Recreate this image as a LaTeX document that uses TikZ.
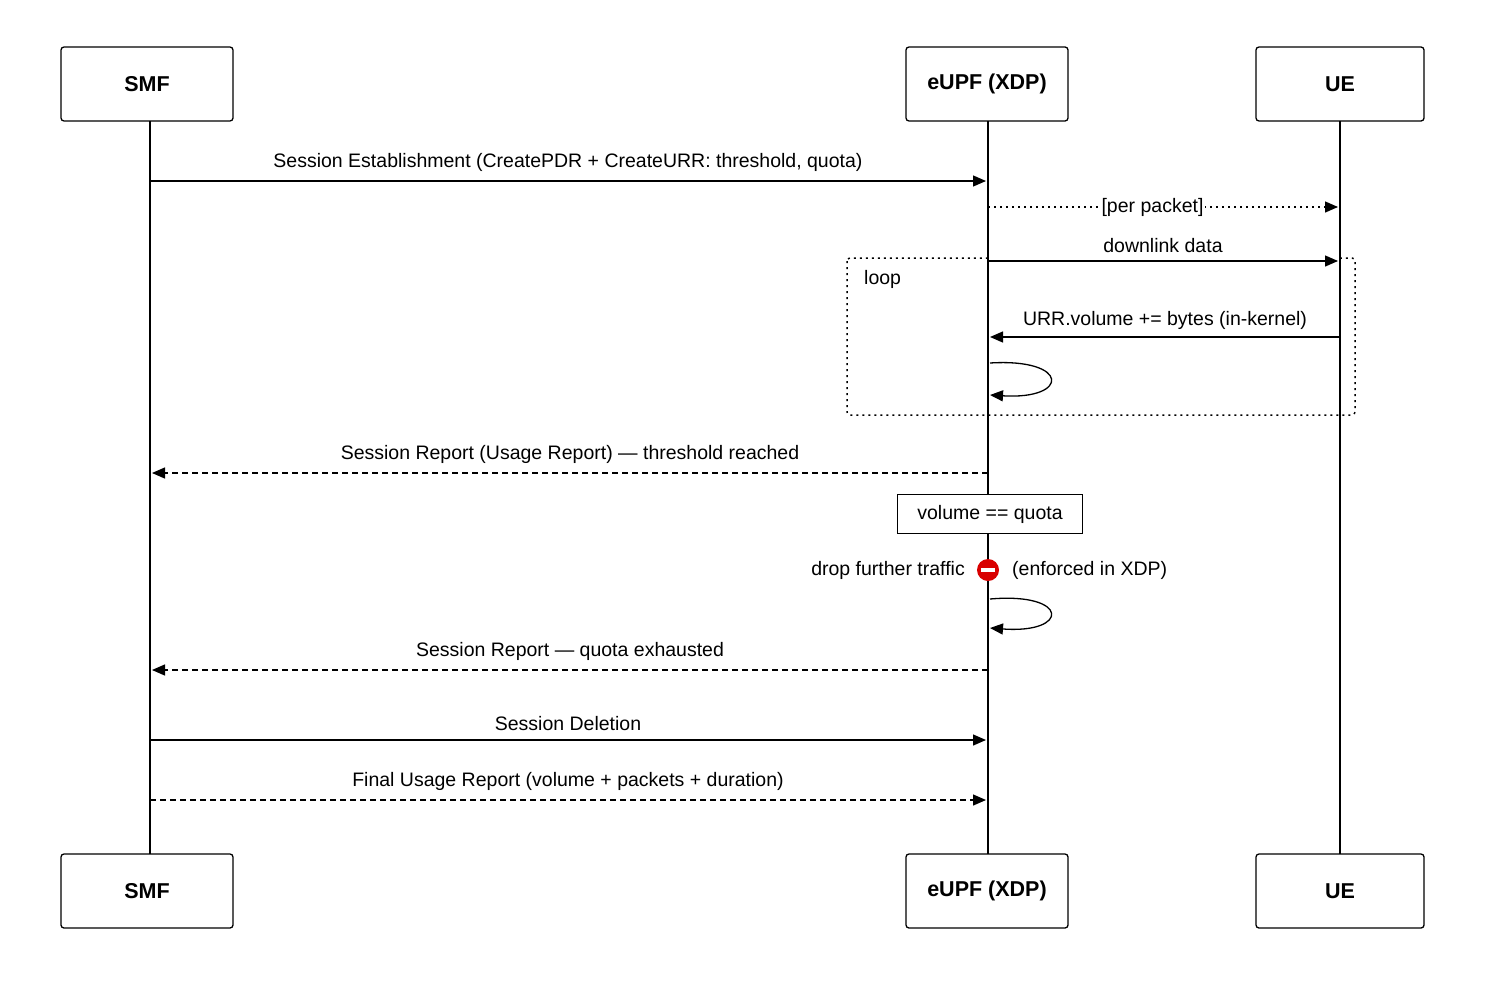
\documentclass[tikz,border=0pt]{standalone}
\usepackage{fontspec}
\setmainfont{Liberation Sans}
\usetikzlibrary{arrows.meta}
\begin{document}
\begin{tikzpicture}[x=1pt,y=-1pt,
  actor/.style={draw,line width=1.3pt,rounded corners=3pt,minimum width=172pt,minimum height=74pt,font=\fontsize{21.5}{26}\selectfont\bfseries},
  msg/.style={line width=1.3pt,-{Triangle[length=13pt,width=11pt]}},
  dots/.style={dash pattern=on 2pt off 4pt},
  dsh/.style={dash pattern=on 6pt off 4pt},
  lbl/.style={font=\fontsize{19.5}{23}\selectfont,inner sep=1pt},
  life/.style={line width=1.3pt}]
\useasboundingbox (0,0) rectangle (1490,1001);
\fill[white] (0,0) rectangle (1490,1001);
\node[actor] (smfT) at (147,84) {SMF};
\node[actor,minimum width=162pt] (upfT) at (987,84) {eUPF (XDP)};
\node[actor,minimum width=168pt] (ueT) at (1340,84) {UE};
\node[actor] (smfB) at (147,891) {SMF};
\node[actor,minimum width=162pt] (upfB) at (987,891) {eUPF (XDP)};
\node[actor,minimum width=168pt] (ueB) at (1340,891) {UE};
\draw[life] (150,121) -- (150,854);
\draw[life] (988,121) -- (988,854);
\draw[life] (1340,121) -- (1340,854);
% loop frame
\draw[dots,line width=1.5pt,rounded corners=3pt] (847,258) rectangle (1355,415);
\node[lbl,anchor=west] (loopL) at (863,279) {loop};
% messages
\coordinate (a1) at (150,181); \coordinate (b1) at (986,181);
\draw[msg] (a1) -- (b1) node[lbl,midway,above=8pt] {Session Establishment (CreatePDR + CreateURR: threshold, quota)};
\coordinate (a2) at (988,207); \coordinate (b2) at (1338,207);
\draw[msg,dots] (a2) -- (b2) node[lbl,pos=0.47,fill=white,inner sep=2pt] {[per packet]};
\fill[white] (990,256.5) rectangle (1338,260);
\coordinate (a3) at (988,261); \coordinate (b3) at (1338,261);
\draw[msg] (a3) -- (b3) node[lbl,midway,above=7pt] {downlink data};
\coordinate (a4) at (1340,337); \coordinate (b4) at (990,337);
\draw[msg] (a4) -- (b4) node[lbl,midway,above=6pt] {URR.volume += bytes (in-kernel)};
\coordinate (s1) at (990,363); \coordinate (s2) at (990,395);
\draw[msg] (s1) .. controls (1070,358) and (1070,400) .. (s2);
\coordinate (a5) at (988,473); \coordinate (b5) at (152,473);
\draw[msg,dsh] (a5) -- (b5) node[lbl,midway,above=8pt] {Session Report (Usage Report) — threshold reached};
\node[draw,line width=1.3pt,fill=white,lbl,minimum width=185pt,minimum height=39pt] (vq) at (990,514) {volume == quota};
\node[circle,fill=red!85!black,minimum size=22pt,inner sep=0pt] (stop) at (988,570) {};
\fill[white] ([xshift=-7pt,yshift=-2pt]stop.center) rectangle ([xshift=7pt,yshift=2pt]stop.center);
\node[lbl,anchor=east] (drop) at (966,570) {drop further traffic};
\node[lbl,anchor=west] (enf) at (1011,570) {(enforced in XDP)};
\coordinate (s3) at (990,599); \coordinate (s4) at (990,628);
\draw[msg] (s3) .. controls (1070,592) and (1070,634) .. (s4);
\coordinate (a6) at (988,670); \coordinate (b6) at (152,670);
\draw[msg,dsh] (a6) -- (b6) node[lbl,midway,above=8pt] {Session Report — quota exhausted};
\coordinate (a7) at (150,740); \coordinate (b7) at (986,740);
\draw[msg] (a7) -- (b7) node[lbl,midway,above=8pt] {Session Deletion};
\coordinate (a8) at (150,800); \coordinate (b8) at (986,800);
\draw[msg,dsh] (a8) -- (b8) node[lbl,midway,above=8pt] {Final Usage Report (volume + packets + duration)};
\end{tikzpicture}
\end{document}
